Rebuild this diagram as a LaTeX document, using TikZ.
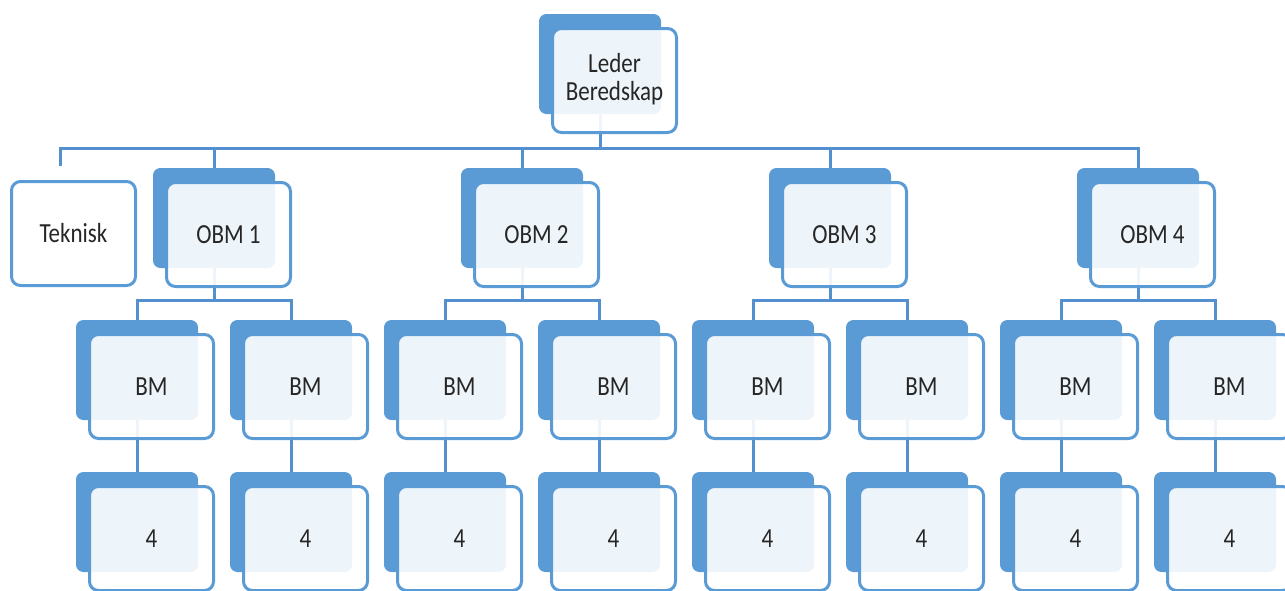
\documentclass[tikz,border=0pt]{standalone}
\usepackage{fontspec}
\setmainfont{Carlito}
\usetikzlibrary{positioning}
\definecolor{accent}{HTML}{5B9BD5}
\definecolor{linec}{HTML}{5490CF}
\definecolor{txt}{HTML}{262626}
\pgfdeclarelayer{bg}
\pgfsetlayers{bg,main}
\tikzset{
  backbox/.style={fill=accent, draw=accent, line width=0.5pt, rounded corners=3.5pt,
    minimum width=60.5pt, minimum height=49.5pt, inner sep=0pt},
  frontbox/.style={fill=white, fill opacity=0.9, text opacity=1, draw=accent, line width=1.5pt,
    rounded corners=4.5pt, minimum width=62pt, minimum height=52pt, inner sep=0pt,
    text=txt, font=\fontsize{11.5}{11.7}\selectfont, align=center},
  conn/.style={draw=linec, line width=1.5pt}
}
\newcommand\mycard[4]{%
  \node[backbox] (#1b) at (#2, #3+50) {};
  \node[frontbox] (#1) at (#2+14.5, #3+66.5) {\scalebox{1}[1.2]{#4}};
}
\begin{document}
\begin{tikzpicture}[x=0.5pt, y=-0.5pt]
\useasboundingbox (0,0) rectangle (1285,590);
\clip (0,0) rectangle (1285,590);
% top
\mycard{L}{600}{14}{\begin{tabular}{@{}c@{}}Leder\\Beredskap\end{tabular}}
% Teknisk
\node[frontbox] (T) at (73.5, 233.5) {\scalebox{1}[1.2]{Teknisk}};
\coordinate (Ttop) at (60,166);
% OBM
\mycard{O1}{214}{168}{OBM 1}
\mycard{O2}{522}{168}{OBM 2}
\mycard{O3}{830}{168}{OBM 3}
\mycard{O4}{1138}{168}{OBM 4}
% BM
\mycard{B1}{137}{320}{BM}
\mycard{B2}{291}{320}{BM}
\mycard{B3}{445}{320}{BM}
\mycard{B4}{599}{320}{BM}
\mycard{B5}{753}{320}{BM}
\mycard{B6}{907}{320}{BM}
\mycard{B7}{1061}{320}{BM}
\mycard{B8}{1215}{320}{BM}
% 4
\mycard{F1}{137}{472}{4}
\mycard{F2}{291}{472}{4}
\mycard{F3}{445}{472}{4}
\mycard{F4}{599}{472}{4}
\mycard{F5}{753}{472}{4}
\mycard{F6}{907}{472}{4}
\mycard{F7}{1061}{472}{4}
\mycard{F8}{1215}{472}{4}
\begin{pgfonlayer}{bg}
  \coordinate (bus0) at (600,148);
  \draw[conn] (Lb.south) -- (bus0);
  \draw[conn] (bus0) -| (Ttop);
  \foreach \o in {O1,O2,O3,O4} \draw[conn] (bus0) -| (\o b.north);
  \foreach \o/\l/\r in {O1/B1/B2,O2/B3/B4,O3/B5/B6,O4/B7/B8}{
    \draw[conn] (\o b.south) -- ++(0,32) coordinate (j\o);
    \draw[conn] (j\o) -| (\l b.north);
    \draw[conn] (j\o) -| (\r b.north);
  }
  \foreach \i in {1,...,8} \draw[conn] (B\i b.south) -- (F\i b.north);
\end{pgfonlayer}
\end{tikzpicture}
\end{document}
